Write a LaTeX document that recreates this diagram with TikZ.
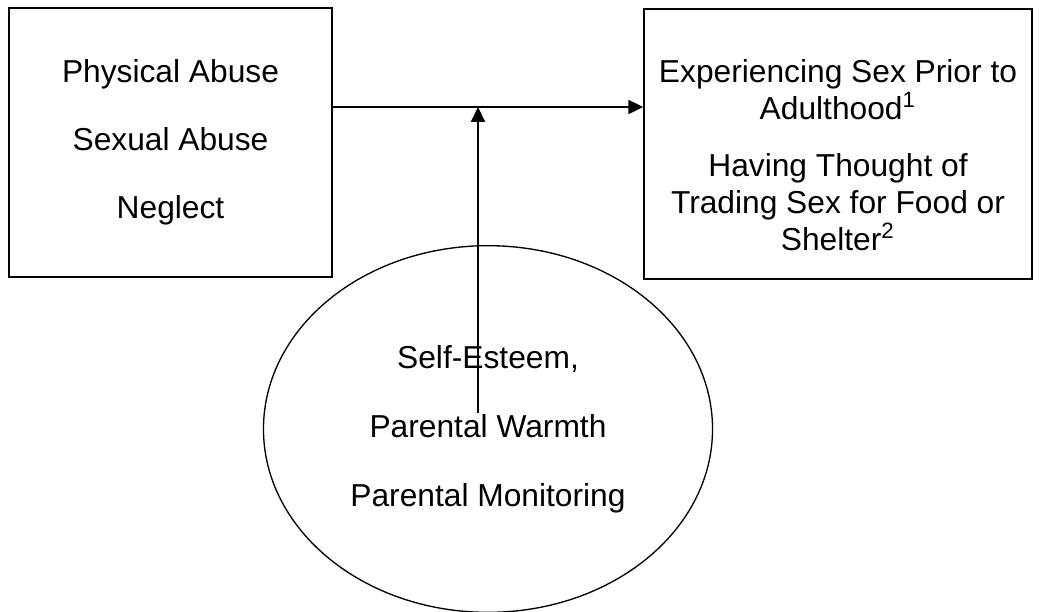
\documentclass[tikz,border=0pt]{standalone}
\usepackage{fontspec}
\setmainfont{Liberation Sans}
\usepackage{tikz}
\usetikzlibrary{arrows.meta,shapes.geometric}

\tikzset{
  box/.style={draw, line width=0.5pt, inner sep=0pt, align=center},
  arr/.style={line width=0.85pt, -{Triangle[length=5.6pt,width=5.2pt]}}
}

\begin{document}
\begin{tikzpicture}[x=0.375pt,y=-0.375pt,font=\fontsize{11.9}{13.9}\selectfont]
\useasboundingbox (0,0) rectangle (1040,611);
\node[box, minimum width=121.1pt, minimum height=100.9pt] (abuse) at (170.5,142.5) {Physical Abuse\\[11.6pt]Sexual Abuse\\[11.6pt]Neglect};
\node[box, minimum width=145.5pt, minimum height=101.25pt] (outcome) at (838,144) {};
\node[align=center, inner sep=0pt] (outtext) at (838,155) {Experiencing Sex Prior to\\Adulthood\textsuperscript{1}\\[7.5pt]Having Thought of\\Trading Sex for Food or\\Shelter\textsuperscript{2}};
\node[box, ellipse, minimum width=168.4pt, minimum height=137.5pt] (protect) at (488,429) {Self-Esteem,\\[12pt]Parental Warmth\\[12pt]Parental Monitoring};
\coordinate (join) at (478,107);
\coordinate (start) at (478,413);
\draw[arr] (abuse.east |- join) -- (outcome.west |- join);
\draw[arr] (start) -- (join);
\end{tikzpicture}
\end{document}
